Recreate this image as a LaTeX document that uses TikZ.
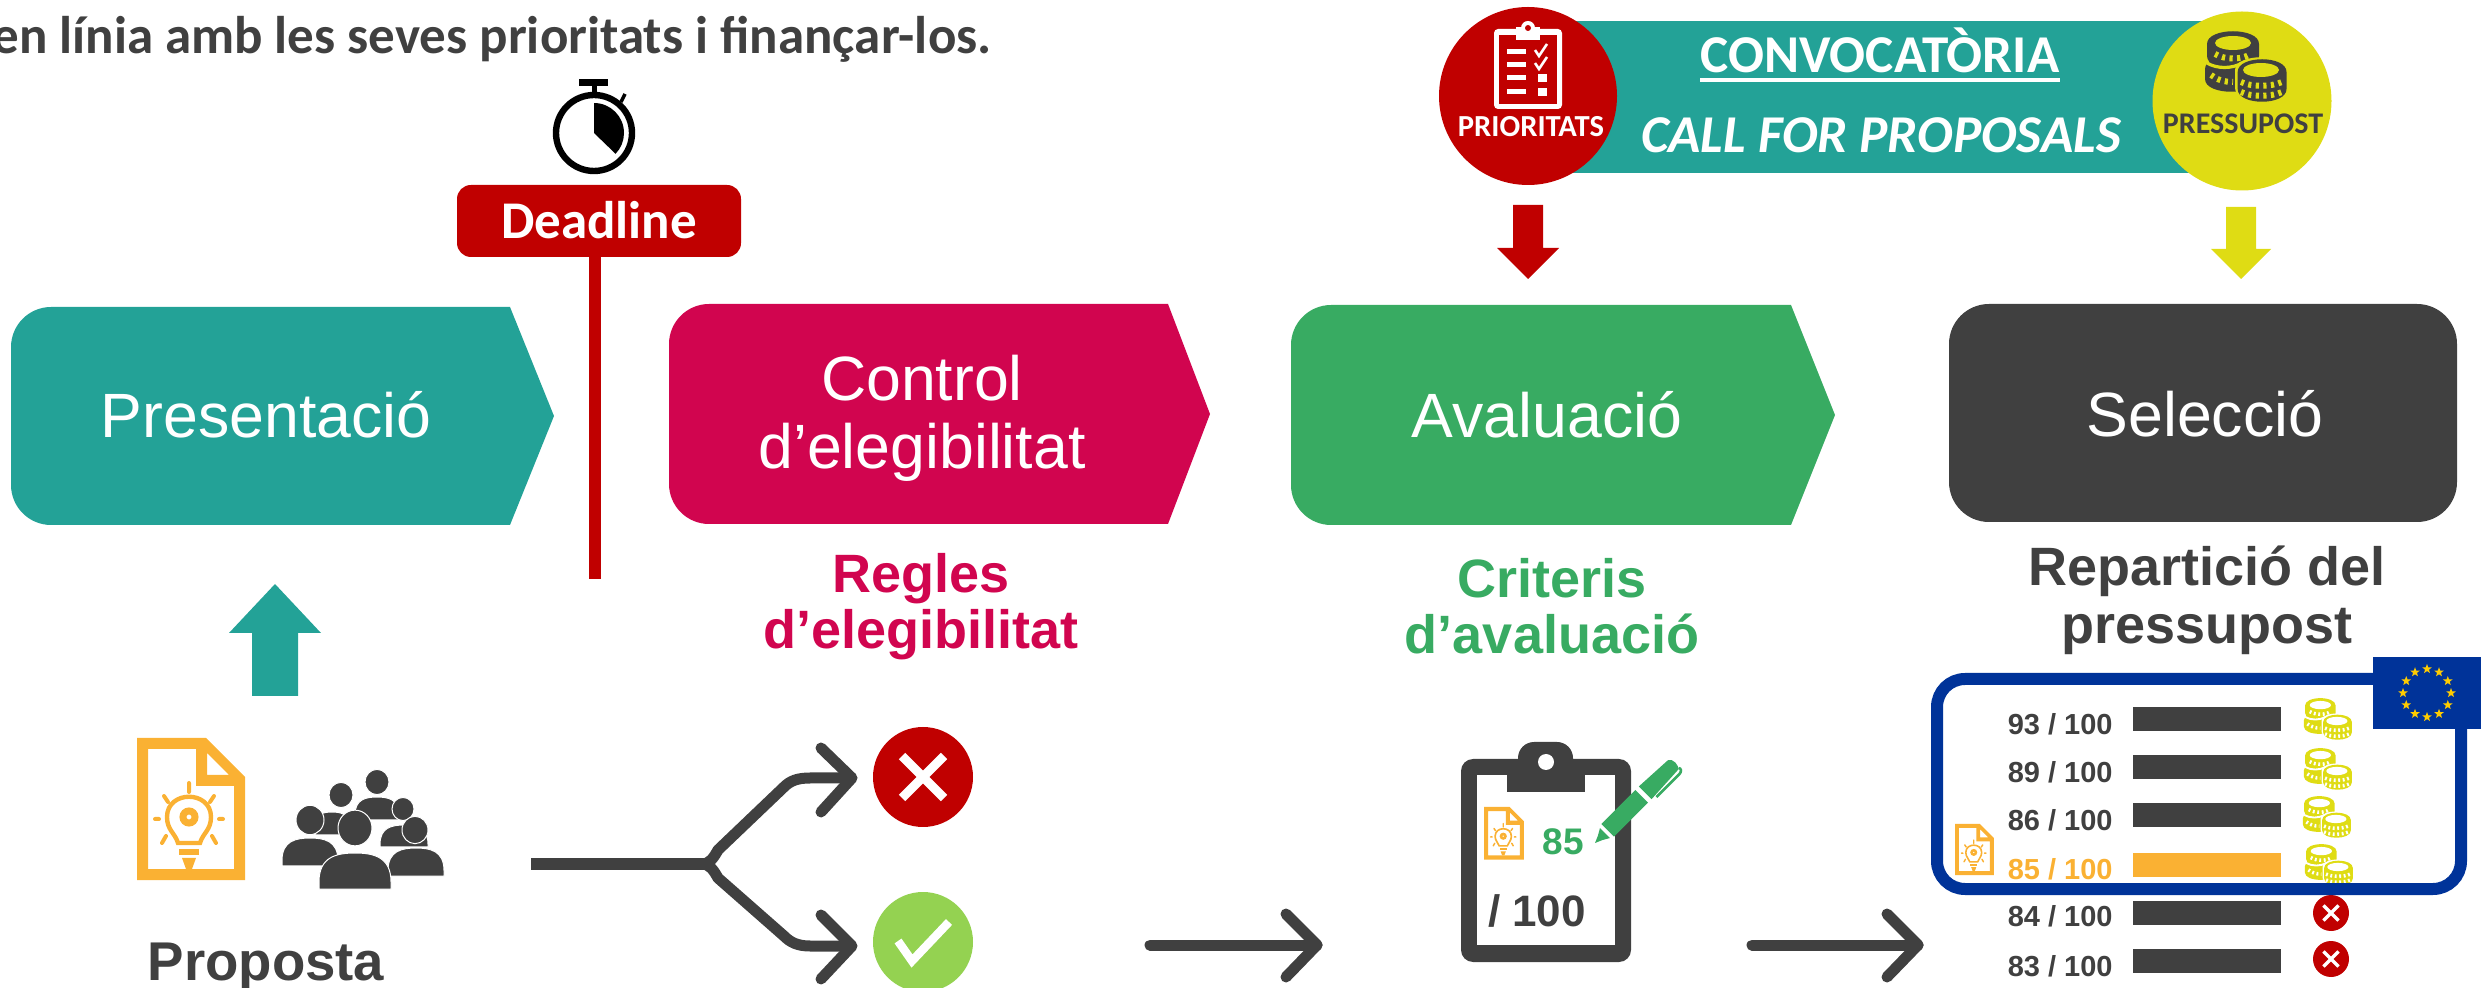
\documentclass[tikz,border=0pt]{standalone}
\usepackage{fontspec}
\usetikzlibrary{shapes.geometric,calc}
\setmainfont{Liberation Sans}
\newfontfamily\carl{Carlito}
\newcommand\fsz[1]{\fontsize{#1}{#1}\selectfont}
\definecolor{cteal}{HTML}{23A297}
\definecolor{ccrim}{HTML}{D1054F}
\definecolor{cgreen}{HTML}{38AB62}
\definecolor{cdark}{HTML}{404040}
\definecolor{cred}{HTML}{C00000}
\definecolor{cyel}{HTML}{DFDC14}
\definecolor{corange}{HTML}{FAB133}
\definecolor{clime}{HTML}{94D251}
\definecolor{cblue}{HTML}{003399}
\definecolor{cstar}{HTML}{FFCC00}
\tikzset{
  stagetxt/.style={text=white,font=\fsz{31.3},align=center,inner sep=0pt,text depth=0pt},
  headtxt/.style={font=\fsz{27}\bfseries,align=center,inner sep=0pt},
  scoretxt/.style={font=\fsz{14.5}\bfseries,text=cdark,anchor=base east,inner sep=0pt},
  bar/.style={fill=cdark},
  cbody/.style={text=white,font=\carl\fsz{26.6}\bfseries,inner sep=0pt,anchor=base},
  branch/.style={draw=cdark,line width=5.5pt,line cap=round,line join=round},
}
% pentagon: left, notch x, tip x, top, bottom, colour
\newcommand\stagepent[6]{%
  \fill[#6] ({#1+40},#4) -- (#2,#4) -- (#3,{(#4+#5)/2}) -- (#2,#5) -- ({#1+40},#5)
    .. controls ({#1+18},#5) and (#1,{#5-18}) .. (#1,{#5-40}) -- (#1,{#4+40})
    .. controls (#1,{#4+18}) and ({#1+18},#4) .. ({#1+40},#4) -- cycle;}
% block arrow down: cx, half shaft, half head, top, head base, tip, colour
\newcommand\blockarrow[7]{%
  \fill[#7] ({#1-#2},#4) -- ({#1+#2},#4) -- ({#1+#2},#5) -- ({#1+#3},#5) -- (#1,#6)
    -- ({#1-#3},#5) -- ({#1-#2},#5) -- cycle;}
% file icon with bulb
\newcommand\fileicon[3]{%
  \begin{scope}[shift={(#1,#2)},x=#3*0.5pt,y=-#3*0.5pt]
    \fill[corange,even odd rule] (0,0) -- (69,0) -- (108,39) -- (108,142) -- (0,142) -- cycle
      (11,11) -- (59,11) -- (59,48) -- (97,48) -- (97,131) -- (11,131) -- cycle
      (70,15) -- (92,37) -- (70,37) -- cycle;
    \draw[corange,line width={#3*2.2pt}]
      (41,105) .. controls (38,95) and (30,92) .. (30,79) .. controls (30,52) and (74,52) .. (74,79)
      .. controls (74,92) and (66,95) .. (63,105) -- cycle;
    \draw[corange,line width={#3*3.5pt}] (52,79) circle[radius=6];
    \draw[corange,line width={#3*2pt},line cap=round]
      (52,45) -- (52,54) (27,58) -- (31,64) (77,58) -- (73,64)
      (18,81) -- (22,81) (82,81) -- (86,81) (25,105) -- (29,98) (79,105) -- (75,98);
    \fill[corange] (42,111) rectangle (62,117);
    \fill[corange] (45,120) -- (59,120) -- (55,131) -- (49,131) -- cycle;
  \end{scope}}
% a stack of coins
\newcommand\coinstack[6]{% cx, y top, depth, fg, bg, dash macro line
  \fill[#4] ({#1-26},#2) -- ({#1-26},{#2+#3}) .. controls ({#1-26},{#2+#3+17}) and ({#1+26},{#2+#3+17}) .. ({#1+26},{#2+#3})
     -- ({#1+26},#2) .. controls ({#1+26},{#2-17}) and ({#1-26},{#2-17}) .. ({#1-26},#2) -- cycle;
  #6}
\newcommand\coinpile[5]{% x,y,scale,fg,bg
  \begin{scope}[shift={(#1,#2)},x=#3*0.5pt,y=-#3*0.5pt]
    \pgfmathsetlengthmacro\don{#3*1.6pt}\pgfmathsetlengthmacro\dof{#3*2.2pt}
    \pgfmathsetlengthmacro\dlw{#3*3pt}\pgfmathsetlengthmacro\gap{#3*1.6pt}
    \coinstack{26}{13}{12}{#4}{#5}{}
    \coinstack{24}{38}{10}{#4}{#5}{}
    \draw[#5,line width=\gap] (0,32) .. controls (10,38) and (25,38) .. (35,32);
    \fill[#5] (26,12) ellipse[x radius=18,y radius=7];
    \draw[#5,line width=\dlw,dash pattern=on \don off \dof] (8,23) .. controls (18,29) and (34,29) .. (44,23);
    \draw[#5,line width=\dlw,dash pattern=on \don off \dof] (4,44) .. controls (10,49) and (18,51) .. (26,51);
    \coinstack{54}{39}{18}{#5}{#5}{}
    \begin{scope}[shift={(1.5,0)},x=#3*0.47pt]\coinstack{57}{41}{17}{#4}{#5}{}\end{scope}
    \fill[#5] (54,39) ellipse[x radius=18,y radius=7];
    \draw[#5,line width=\dlw,dash pattern=on \don off \dof] (34,51) .. controls (44,56) and (64,56) .. (75,51);
    \draw[#5,line width=\dlw,dash pattern=on \don off \dof] (34,61) .. controls (44,66) and (64,66) .. (75,61);
  \end{scope}}
\newcommand\person[5]{% head cx,cy,r
  \fill[cdark,draw=white,line width=.5pt] (#1,#2) ellipse[x radius=#3,y radius={#3*1.05}];}
\newcommand\pbody[4]{% cx, top, half width, bottom
  \fill[cdark,draw=white,line width=.5pt] ({#1-#3},#4) -- ({#1-#3},{#2+#3*.8})
    .. controls ({#1-#3},{#2+#3*.1}) and ({#1-#3*.5},#2) .. (#1,#2)
    .. controls ({#1+#3*.5},#2) and ({#1+#3},{#2+#3*.1}) .. ({#1+#3},{#2+#3*.8}) -- ({#1+#3},#4) -- cycle;}
% red disc with cross: name,x,y,r
\newcommand\crossdisc[4]{%
  \node[circle,fill=cred,minimum size={#4*1pt},inner sep=0pt] (#1) at (#2,#3) {};
  \draw[white,line width={#4*.09pt},line cap=butt]
    ({#2-#4*.42},{#3-#4*.42}) -- ({#2+#4*.42},{#3+#4*.42}) ({#2-#4*.42},{#3+#4*.42}) -- ({#2+#4*.42},{#3-#4*.42});}
\begin{document}
\begin{tikzpicture}[x=0.5pt,y=-0.5pt]
\clip (0,0) rectangle (2481,988);
% header
\node[anchor=base east,inner sep=0pt,text=cdark,font=\carl\fsz{26.5}\bfseries] (intro) at (992,54) {en línia amb les seves prioritats i finançar-los.};
% stopwatch
\fill (579,79) rectangle (608,86);
\fill (592,86) rectangle (597,94);
\draw[line width=1.7pt] (621,102) -- (625,94);
\draw[line width=3.2pt] (594,133) circle[radius=38];
\fill (594,133) -- (594,103) arc[start angle=-90,end angle=44,radius=30] -- cycle;
% deadline
\node[fill=cred,rounded corners=7pt,minimum width=142pt,minimum height=36pt,inner sep=0pt,text=white,font=\carl\fsz{26.5}\bfseries,text depth=0pt] (deadline) at (599,221) {\raisebox{1pt}{Deadline}};
\coordinate (deadend) at (595,579);
\draw[cred,line width=6pt] (deadline.south -| deadend) -- (deadend);
% stages
\stagepent{11}{510}{554}{307}{525}{cteal}
\stagepent{669}{1168}{1210}{304}{524}{ccrim}
\stagepent{1291}{1791}{1835}{305}{525}{cgreen}
\fill[cdark,rounded corners=20pt] (1949,304) rectangle (2457,522);
\node[stagetxt] (s1) at (266,414) {Presentació};
\node[stagetxt] (s2) at (922,412) {Control\\[3pt]d’elegibilitat};
\node[stagetxt] (s3) at (1547,414) {Avaluació};
\node[stagetxt] (s4) at (2205,413) {Selecció};
% captions
\node[headtxt,text=ccrim] (c2) at (921,607) {Regles\\[1pt]d’elegibilitat};
\node[headtxt,text=cgreen] (c3) at (1552,606) {Criteris\\[1pt]d’avaluació};
\node[headtxt,text=cdark] (c4) at (2207,600) {Repartició del\\[2pt]pressupost};
\node[font=\fsz{27.3}\bfseries,text=cdark,anchor=base,inner sep=0pt] (prop) at (266,980) {Proposta};
% call banner
\fill[cteal] (1553,21) rectangle (2216,173);
\node[circle,fill=cred,minimum size=89pt,inner sep=0pt] (prio) at (1528,96) {};
\node[circle,fill=cyel,minimum size=89.5pt,inner sep=0pt] (budg) at (2242,101) {};
\node[cbody] (conv) at (1880,73) {CONVOCATÒRIA};
\draw[white,line width=2pt] ([yshift=-3.5pt]conv.base west) -- ([yshift=-3.5pt]conv.base east);
\node[cbody,font=\carl\fsz{26.6}\bfseries\itshape] (call) at (1881,153) {CALL FOR PROPOSALS};
\node[cbody,font=\carl\fsz{15.3}\bfseries] (ptxt) at (1531,137) {PRIORITATS};
\node[cbody,text=cdark,font=\carl\fsz{15}\bfseries] (btxt) at (2243,134) {PRESSUPOST};
% clipboard in red disc
\fill[white,rounded corners=2pt] (1494,29) rectangle (1562,109);
\fill[cred] (1499,35) rectangle (1557,104);
\fill[white] (1516,27) rectangle (1540,40);
\fill[white] (1528,28) circle[radius=7];
\fill[cred] (1528,28) circle[radius=3];
\foreach \r/\yy in {1/52,2/65,3/78,4/92}{\fill[white] (1507,\yy-2.5) rectangle (1526,\yy+2.5);}
\draw[white,line width=1.3pt] (1535,50) -- (1539,56) -- (1547,44);
\draw[white,line width=1.3pt] (1535,63) -- (1539,69) -- (1547,57);
\fill[white] (1538,74) rectangle (1547,82);
\fill[white] (1538,88) rectangle (1547,96);
\coinpile{2207}{31}{1}{cdark}{cyel}
% block arrows
\blockarrow{1528}{15}{31}{205}{248}{279}{cred}
\blockarrow{2241}{15}{30}{207}{249}{279}{cyel}
\fill[cteal] (252,696) -- (298,696) -- (298,633) -- (321,633) -- (275,584) -- (229,633) -- (252,633) -- cycle;
% proposal icons
\fileicon{137}{738}{1}
\pbody{377}{797}{22}{820}
\person{377}{782}{12}{}{}
\pbody{332}{812}{17}{835}
\person{341}{795}{12}{}{}
\person{310}{820}{14}{}{}
\person{403}{809}{11}{}{}
\pbody{404}{825}{24}{847}
\person{415}{830}{13}{}{}
\pbody{310}{838}{28}{866}
\pbody{416}{848}{28}{876}
\person{355}{828}{17}{}{}
\pbody{355}{853}{36}{889}
% branch arrow
\crossdisc{rej}{923}{777}{50}
\node[circle,fill=clime,minimum size=50pt,inner sep=0pt] (acc) at (923,942) {};
\draw[white,line width=4.2pt,line join=miter] (898,941) -- (912,961) -- (949,922);
\coordinate (bstart) at (531,864);
\coordinate (bfork) at (702,864);
\coordinate (btop) at (852,778);
\coordinate (bbot) at (852,946);
\draw[branch,line cap=butt] (bfork) .. controls (710,864) and (714,857) .. (718,850) -- (784,787)
   .. controls (790,781) and (797,778) .. (810,778) -- (btop);
\draw[branch,line cap=butt] (bfork) .. controls (710,864) and (714,871) .. (718,878) -- (784,936)
   .. controls (790,942) and (797,946) .. (810,946) -- (bbot);
\draw[cdark,line width=6.3pt] (bstart) -- ([xshift=2pt]bfork);
\draw[branch] (821,748) -- (btop) -- (821,812);
\draw[branch] (821,915) -- (bbot) -- (821,979);
% arrows
\coordinate (a1s) at (1150,945); \coordinate (a1e) at (1317,945);
\coordinate (a2s) at (1752,945); \coordinate (a2e) at (1918,945);
\draw[branch] (a1s) -- (a1e); \draw[branch] (1286,914) -- (a1e) -- (1286,977);
\draw[branch] (a2s) -- (a2e); \draw[branch] (1887,914) -- (a2e) -- (1887,977);
% clipboard
\fill[cdark,rounded corners=6pt] (1461,759) rectangle (1631,962);
\fill[cdark,rounded corners=8pt] (1518,742) rectangle (1573,775);
\fill[white] (1477,775) rectangle (1615,945);
\fill[cdark] (1507,770) rectangle (1585,792);
\fill[white] (1546,762) circle[radius=8];
\fileicon{1484}{807}{0.37}
\node[font=\fsz{18.5}\bfseries,text=cgreen,anchor=base,inner sep=0pt] (score) at (1563,855) {85};
\node[font=\fsz{22}\bfseries,text=cdark,anchor=base,inner sep=0pt] (total) at (1537,927) {/ 100};
\begin{scope}[shift={(1595,843)},rotate=45]
  \fill[cgreen] (0,0) -- (7,-3) -- (14,-7) -- (14,7) -- (7,3) -- cycle;
  \fill[cgreen] (18,-9) -- (66,-9) -- (66,9) -- (18,9) -- cycle;
  \fill[cgreen] (71,-9) -- (110,-7) .. controls (115,-6) and (115,6) .. (110,7) -- (71,9) -- cycle;
  \draw[cgreen,line width=1.3pt] (76,11) -- (108,11) .. controls (112,11) and (114,8) .. (112,6);
\end{scope}
% selection rows
\foreach \n/\t/\yy/\cc in {r1/93/735/cdark,r2/89/783/cdark,r3/86/831/cdark,r4/85/879/corange,r5/84/927/cdark,r6/83/976/cdark}{
  \node[scoretxt,text=\cc] (\n) at (2113,\yy) {\t{} / 100};
}
\fill[bar] (2133,707) rectangle (2281,731);
\fill[bar] (2133,755) rectangle (2281,779);
\fill[bar] (2133,803) rectangle (2281,827);
\fill[corange] (2133,853) rectangle (2281,877);
\fill[bar] (2133,901) rectangle (2281,925);
\fill[bar] (2133,949) rectangle (2281,973);
\coinpile{2305}{698}{0.59}{cyel}{white}
\coinpile{2305}{748}{0.59}{cyel}{white}
\coinpile{2304}{796}{0.59}{cyel}{white}
\coinpile{2306}{844}{0.59}{cyel}{white}
\crossdisc{x1}{2331}{913}{18}
\crossdisc{x2}{2331}{959}{18}
\fileicon{1955}{824}{0.36}
\draw[cblue,line width=6pt,rounded corners=14pt] (1937,679) rectangle (2461,889);
\fill[cblue] (2373,657) rectangle (2481,729);
\foreach \a in {0,30,...,330}{
  \node[star,star points=5,star point ratio=2.4,fill=cstar,inner sep=0pt,minimum size=5pt] (st\a) at ({2427+24*cos(\a)},{693+24*sin(\a)}) {};
}
\end{tikzpicture}
\end{document}
